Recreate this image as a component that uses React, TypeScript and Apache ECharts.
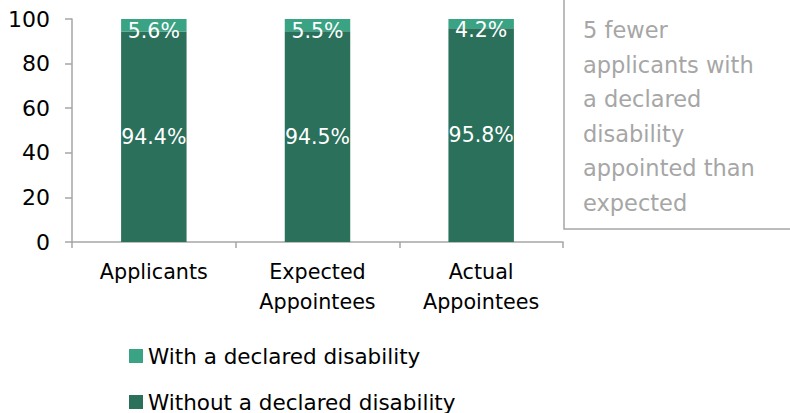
import React, { useEffect, useRef } from "react";
import * as echarts from "echarts";

const categories = ["Applicants", "Expected\nAppointees", "Actual\nAppointees"];
const withDisability = [5.6, 5.5, 4.2];
const withoutDisability = [94.4, 94.5, 95.8];
const seriesNames = ["With a declared disability", "Without a declared disability"];
const noteLines = ["5 fewer", "applicants with", "a declared", "disability", "appointed than", "expected"];

const FONT = "DejaVu Sans";

export default function App() {
  const ref = useRef<HTMLDivElement>(null);
  useEffect(() => {
    const chart = echarts.init(ref.current!, null, { renderer: "svg" });
    const legendText = { fontFamily: FONT, fontSize: 21.5, color: "#000", lineHeight: 22 };
    chart.setOption({
      animation: false,
      textStyle: { fontFamily: FONT },
      grid: { left: 72, top: 19, right: 227, bottom: 171, containLabel: false },
      legend: [
        {
          orient: "horizontal",
          left: 129,
          top: 345,
          padding: 0,
          itemWidth: 14,
          itemHeight: 14,
          itemGap: 6,
          icon: "rect",
          data: [seriesNames[0]],
          textStyle: legendText,
        },
        {
          orient: "horizontal",
          left: 129,
          top: 391,
          padding: 0,
          itemWidth: 14,
          itemHeight: 14,
          itemGap: 6,
          icon: "rect",
          data: [seriesNames[1]],
          textStyle: legendText,
        },
      ],
      xAxis: {
        type: "category",
        data: categories,
        axisLine: { lineStyle: { color: "#A6A6A6", width: 1.5 } },
        axisTick: { show: true, length: 6, lineStyle: { color: "#A6A6A6", width: 1.5 } },
        axisLabel: { color: "#000", fontSize: 20.7, lineHeight: 30, margin: 15, fontFamily: FONT },
      },
      yAxis: {
        type: "value",
        min: 0,
        max: 100,
        interval: 20,
        splitLine: { show: false },
        axisLine: { show: true, lineStyle: { color: "#A6A6A6", width: 1.5 } },
        axisTick: { show: true, length: 7, lineStyle: { color: "#A6A6A6", width: 1.5 } },
        axisLabel: { color: "#000", fontSize: 22, margin: 22, fontFamily: FONT },
      },
      series: [
        {
          name: seriesNames[1],
          type: "bar",
          stack: "total",
          barWidth: "40%",
          data: withoutDisability,
          itemStyle: { color: "#2A705B" },
          label: {
            show: true,
            position: "inside",
            color: "#fff",
            fontSize: 20.5,
            fontFamily: FONT,
            formatter: (p: any) => p.value.toFixed(1) + "%",
          },
        },
        {
          name: seriesNames[0],
          type: "bar",
          stack: "total",
          barWidth: "40%",
          data: withDisability,
          itemStyle: { color: "#3AA383" },
          label: {
            show: true,
            position: "inside",
            offset: [0, 6],
            color: "#fff",
            fontSize: 20.5,
            fontFamily: FONT,
            formatter: (p: any) => p.value.toFixed(1) + "%",
          },
        },
      ],
      graphic: [
        {
          type: "rect",
          shape: { x: 564, y: -5, width: 240, height: 234 },
          style: { fill: "none", stroke: "#A6A6A6", lineWidth: 1.5 },
        },
        {
          type: "text",
          x: 583,
          y: 13,
          style: {
            text: noteLines.join("\n"),
            fill: "#A6A6A6",
            fontSize: 22.5,
            fontFamily: FONT,
            lineHeight: 34.5,
          },
        },
      ],
    });
    return () => chart.dispose();
  }, []);
  return <div ref={ref} style={{ width: 790, height: 413, position: "absolute", left: 0, top: 0 }} />;
}
